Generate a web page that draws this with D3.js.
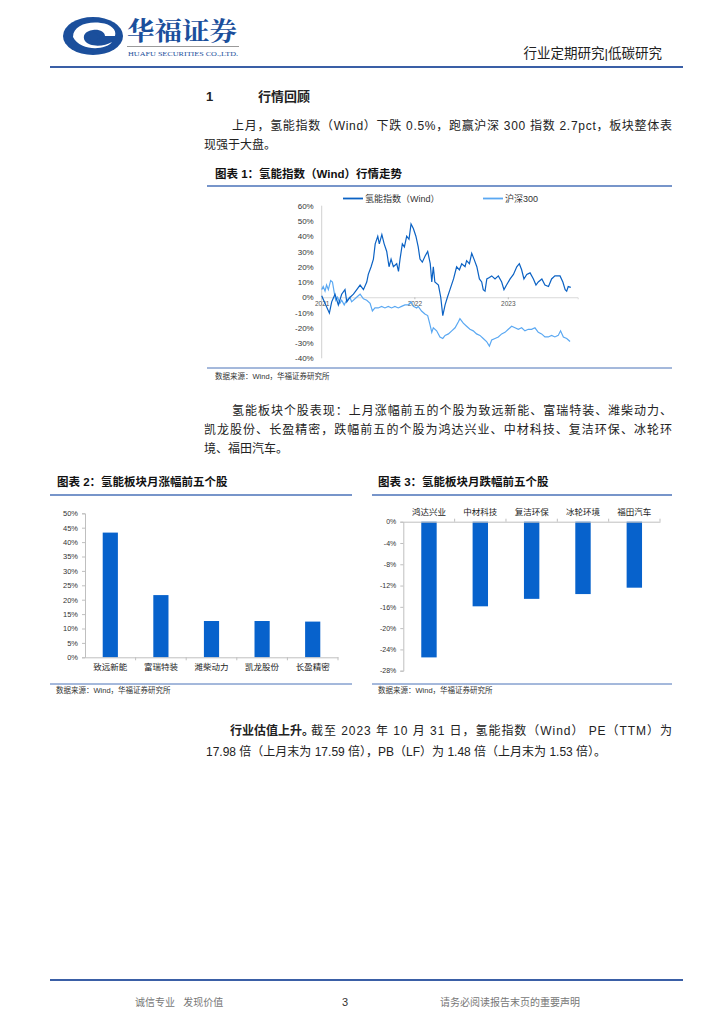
<!DOCTYPE html>
<html>
<head>
<meta charset="utf-8">
<script src="https://cdn.jsdelivr.net/npm/d3@7"></script>
<style>
body{margin:0;background:#fff}
svg{display:block}
</style>
</head>
<body>
<svg id="page"></svg>
<script>
// ---- data ----
var hydDates = ["2021-01-04","2021-02-03","2021-02-12","2021-02-25","2021-03-10","2021-03-23","2021-04-05","2021-04-12","2021-04-25","2021-05-08","2021-05-21","2021-06-03","2021-06-16","2021-06-29","2021-07-05","2021-07-16","2021-07-25","2021-08-01","2021-08-11","2021-08-17","2021-08-27","2021-09-05","2021-09-15","2021-09-24","2021-10-02","2021-10-11","2021-10-24","2021-10-31","2021-11-06","2021-11-15","2021-11-23","2021-12-02","2021-12-11","2021-12-19","2021-12-28","2022-01-07","2022-01-16","2022-01-23","2022-02-01","2022-02-12","2022-02-22","2022-03-04","2022-03-10","2022-03-16","2022-03-22","2022-04-05","2022-04-14","2022-04-22","2022-05-01","2022-05-10","2022-05-20","2022-06-03","2022-06-15","2022-06-26","2022-07-05","2022-07-18","2022-07-24","2022-08-04","2022-08-13","2022-08-22","2022-09-02","2022-09-12","2022-09-21","2022-09-27","2022-10-04","2022-10-11","2022-10-21","2022-10-30","2022-11-12","2022-11-25","2022-12-08","2022-12-17","2022-12-27","2023-01-10","2023-01-23","2023-02-05","2023-02-15","2023-02-24","2023-03-05","2023-03-16","2023-03-29","2023-04-11","2023-04-21","2023-04-30","2023-05-14","2023-05-26","2023-06-09","2023-06-21","2023-07-04","2023-07-24","2023-08-04","2023-08-13","2023-08-19","2023-08-25","2023-09-04"]
var hydValues = [1,-10.4,-3,2,-5,2,5,-3,0,2,5,8,5,10,15,20,25,35,40,35,41,35,30,20,25,20,22,17,25,35,33,40,38,48,45,40,33,25,23,27,30,22,10,20,10,8,0,-12,-5,0,5,12,20,18,22,20,24,22,28.8,25,20,12,10,5,4,12,13,14,12,14,10,5,8,12,15,20,22,18,12,15,16,12,8,10,12,8,7,12,14,14,10,5,4,7,6.5]

var hsDates = ["2021-01-04","2021-01-10","2021-01-17","2021-01-23","2021-01-30","2021-02-08","2021-02-15","2021-02-22","2021-02-28","2021-03-07","2021-03-16","2021-03-23","2021-04-02","2021-04-11","2021-04-24","2021-05-01","2021-05-14","2021-05-27","2021-06-03","2021-06-16","2021-06-29","2021-07-12","2021-07-21","2021-07-31","2021-08-13","2021-08-26","2021-09-08","2021-09-21","2021-10-04","2021-10-17","2021-10-30","2021-11-12","2021-11-25","2021-12-08","2021-12-19","2021-12-28","2022-01-10","2022-01-16","2022-01-29","2022-02-11","2022-02-22","2022-03-03","2022-03-10","2022-03-16","2022-03-29","2022-04-11","2022-04-22","2022-05-01","2022-05-14","2022-05-27","2022-06-09","2022-06-22","2022-06-28","2022-07-11","2022-07-24","2022-08-06","2022-08-19","2022-09-01","2022-09-14","2022-09-27","2022-10-10","2022-10-21","2022-10-30","2022-11-12","2022-11-25","2022-12-08","2022-12-21","2023-01-03","2023-01-16","2023-01-29","2023-02-11","2023-02-24","2023-03-09","2023-03-22","2023-04-04","2023-04-17","2023-04-30","2023-05-13","2023-05-26","2023-06-08","2023-06-21","2023-07-04","2023-07-17","2023-07-26","2023-08-06","2023-08-19","2023-09-01"]
var hsValues = [5,7,4,8,5,11,10,3,-2,0,-4,-2,-5,-2,0,-3,-1,1,2,-1,-2,-4,-9,-7,-7,-6,-7,-6,-7,-6,-7,-6,-5,-5,-3,-6,-7,-6,-9,-11,-12,-18,-23,-20,-22,-26,-27,-25,-24,-22,-20,-16,-14,-17,-19,-21,-22,-24,-25,-27,-29,-32,-28,-27,-26,-24,-23,-21,-19,-20,-21,-20,-22,-21,-21,-20,-23,-24,-26,-26,-25,-26,-25,-22,-26,-27,-29]

var lineNames = ["氢能指数（Wind）","沪深300"]
var yearTickDates = ["2021-01-04","2022-01-01","2023-01-01"]
var yearLabels = ["2021","2022","2023"]
var lineTicks = [-40,-30,-20,-10,0,10,20,30,40,50,60]

var riseStocks = ["致远新能","富瑞特装","潍柴动力","凯龙股份","长盈精密"]
var riseValues = [43.3,21.6,12.6,12.6,12.4]
var riseTicks = [0,5,10,15,20,25,30,35,40,45,50]

var fallStocks = ["鸿达兴业","中材科技","复洁环保","冰轮环境","福田汽车"]
var fallValues = [-25.5,-15.9,-14.5,-13.6,-12.4]
var fallTicks = [0,-4,-8,-12,-16,-20,-24,-28]

// ---- page ----
var W = 724, H = 1024
var CJK = "'Liberation Sans','Noto Sans CJK SC',sans-serif"
var parse = d3.timeParse("%Y-%m-%d")
var svg = d3.select("#page").attr("width",W).attr("height",H)
  .style("font-family",CJK)

function txt(g,x,y,s,size,opt){
  opt = opt||{}
  var t = g.append("text").attr("x",x).attr("y",y).text(s)
    .attr("font-size",size).attr("fill",opt.fill||"#222")
    .style("white-space","pre")
  if(opt.bold) t.attr("font-weight","bold")
  if(opt.anchor) t.attr("text-anchor",opt.anchor)
  if(opt.len) t.attr("textLength",opt.len).attr("lengthAdjust","spacing")
  return t
}

// header
var logo = svg.append("g")
logo.append("ellipse").attr("cx",93).attr("cy",36).attr("rx",30).attr("ry",19).attr("fill","#1b4f9c")
logo.append("path")
  .attr("d","M73,37 C73,26 87,21 101,23 C111,24 117,30 115,36 L105,36 C105,32 99,29 93,30 C85,31 82,36 85,41 C89,47 104,47 112,42 C105,51 80,51 73,37 Z")
  .attr("fill","#fff")
logo.append("path").attr("d","M93,32 L101,37 L93,42 L87,37 Z").attr("fill","#1b4f9c")
txt(svg,127,40,"华福证券",25,{fill:"#1b4f9c",bold:true}).style("font-family","'Noto Serif CJK SC','Noto Sans CJK SC',serif")
  .attr("textLength",110).attr("lengthAdjust","spacingAndGlyphs")
svg.append("line").attr("x1",127).attr("x2",239).attr("y1",46.5).attr("y2",46.5).attr("stroke","#9a9a9a").attr("stroke-width",1)
txt(svg,128,56,"HUAFU SECURITIES CO.,LTD.",6.6,{fill:"#1b4f9c"}).style("font-family","'Liberation Serif',serif")
  .attr("textLength",110).attr("lengthAdjust","spacingAndGlyphs")
txt(svg,662,58,"行业定期研究|低碳研究",13.5,{anchor:"end",fill:"#222"})
svg.append("line").attr("x1",50).attr("x2",683).attr("y1",67).attr("y2",67).attr("stroke","#3a5fa6").attr("stroke-width",2)

// section heading + paragraph 1
txt(svg,206,101,"1",13,{bold:true})
txt(svg,258,101,"行情回顾",13,{bold:true})
txt(svg,232,130,"上月，氢能指数（Wind）下跌 0.5%，跑赢沪深 300 指数 2.7pct，板块整体表",12,{len:440})
txt(svg,204,149,"现强于大盘。",12)

// ---- chart 1 frame ----
txt(svg,215,178,"图表 1：氢能指数（Wind）行情走势",11.5,{bold:true,fill:"#111"})
svg.append("line").attr("x1",207).attr("x2",672).attr("y1",186).attr("y2",186).attr("stroke","#4a72b8").attr("stroke-width",1.3)
svg.append("line").attr("x1",207).attr("x2",672).attr("y1",368).attr("y2",368).attr("stroke","#4a72b8").attr("stroke-width",1)
txt(svg,215,379,"数据来源：Wind，华福证券研究所",7.5,{fill:"#333"})

var lineColors = ["#0b62c4","#5aa8f2"]
var hydData = hydDates.map((d,i)=>({date:parse(d),v:hydValues[i]}))
var hsData = hsDates.map((d,i)=>({date:parse(d),v:hsValues[i]}))

var x1 = d3.scaleTime().domain([parse("2021-01-04"),parse("2023-10-01")]).range([321.7,577.7])
var y1 = d3.scaleLinear().domain([-40,60]).range([358.3,205.7])
var c1 = svg.append("g").attr("class","chart1")

c1.append("line").attr("x1",321.7).attr("x2",321.7).attr("y1",y1(60)).attr("y2",y1(-40)).attr("stroke","#d0d0d0")
c1.append("g").attr("transform","translate(321.7,0)")
  .call(d3.axisLeft(y1).tickValues(lineTicks).tickFormat(d=>d+"%").tickSize(0).tickPadding(8))
  .call(g=>g.select(".domain").remove())
  .selectAll("text").attr("font-size",8).attr("fill","#333").style("font-family",CJK)

c1.append("g").attr("transform",`translate(0,${y1(0)})`)
  .call(d3.axisBottom(x1).tickValues(yearTickDates.map(parse)).tickFormat((d,i)=>yearLabels[i]).tickSize(2).tickPadding(2))
  .call(g=>g.select(".domain").attr("stroke","#d9d9d9"))
  .call(g=>g.selectAll("line").attr("stroke","#bbb"))
  .selectAll("text").attr("font-size",6.5).attr("fill","#555").style("font-family",CJK)

var line = d3.line().x(d=>x1(d.date)).y(d=>y1(d.v))
c1.append("path").datum(hsData).attr("d",line).attr("fill","none").attr("stroke",lineColors[1]).attr("stroke-width",1.2)
c1.append("path").datum(hydData).attr("d",line).attr("fill","none").attr("stroke",lineColors[0]).attr("stroke-width",1.2)

var leg = c1.append("g")
var legX = [343,483]
lineNames.forEach(function(n,i){
  leg.append("line").attr("x1",legX[i]).attr("x2",legX[i]+20).attr("y1",198.5).attr("y2",198.5)
    .attr("stroke",lineColors[i]).attr("stroke-width",1.8)
  txt(leg,legX[i]+22,202,n,9,{fill:"#333"})
})

// paragraph 2
txt(svg,232,415,"氢能板块个股表现：上月涨幅前五的个股为致远新能、富瑞特装、潍柴动力、",12,{len:440})
txt(svg,204,434,"凯龙股份、长盈精密，跌幅前五的个股为鸿达兴业、中材科技、复洁环保、冰轮环",12,{len:468})
txt(svg,204,453,"境、福田汽车。",12)

// ---- chart 2 ----
txt(svg,57,486,"图表 2：氢能板块月涨幅前五个股",11.5,{bold:true,fill:"#111"})
svg.append("line").attr("x1",50).attr("x2",352).attr("y1",495).attr("y2",495).attr("stroke","#4a72b8").attr("stroke-width",1.3)
svg.append("line").attr("x1",50).attr("x2",352).attr("y1",684).attr("y2",684).attr("stroke","#4a72b8").attr("stroke-width",1)
txt(svg,56,693,"数据来源：Wind，华福证券研究所",7.5,{fill:"#333"})

var barColor = "#0762cc"
var x2 = d3.scaleBand().domain(riseStocks).range([85,338]).paddingInner(0.7).paddingOuter(0.35)
var y2 = d3.scaleLinear().domain([0,50]).range([657.3,513.3])
var c2 = svg.append("g")
c2.append("g").attr("transform","translate(85,0)")
  .call(d3.axisLeft(y2).tickValues(riseTicks).tickFormat(d=>d+"%").tickSize(3).tickPadding(4))
  .call(g=>g.select(".domain").attr("stroke","#bfbfbf"))
  .call(g=>g.selectAll(".tick line").attr("stroke","#bfbfbf"))
  .selectAll("text").attr("font-size",7.5).attr("fill","#333").style("font-family",CJK)
c2.selectAll(".bar").data(riseValues).enter().append("rect").attr("class","bar")
  .attr("x",(d,i)=>x2(riseStocks[i])).attr("width",x2.bandwidth())
  .attr("y",d=>y2(d)).attr("height",d=>y2(0)-y2(d)).attr("fill",barColor)
c2.append("g").attr("transform",`translate(0,${y2(0)})`)
  .call(d3.axisBottom(x2).tickSize(0).tickPadding(7))
  .call(g=>g.select(".domain").attr("stroke","#bfbfbf"))
  .selectAll("text").attr("font-size",8.5).attr("fill","#222").style("font-family",CJK)
c2.selectAll(".sep").data(riseStocks).enter().append("line").attr("class","sep")
  .attr("x1",(d,i)=>x2(d)+x2.bandwidth()/2+x2.step()/2).attr("x2",(d,i)=>x2(d)+x2.bandwidth()/2+x2.step()/2)
  .attr("y1",y2(0)).attr("y2",y2(0)+3).attr("stroke","#bfbfbf")

// ---- chart 3 ----
txt(svg,378,486,"图表 3：氢能板块月跌幅前五个股",11.5,{bold:true,fill:"#111"})
svg.append("line").attr("x1",372).attr("x2",672).attr("y1",495).attr("y2",495).attr("stroke","#4a72b8").attr("stroke-width",1.3)
svg.append("line").attr("x1",372).attr("x2",672).attr("y1",684).attr("y2",684).attr("stroke","#4a72b8").attr("stroke-width",1)
txt(svg,378,693,"数据来源：Wind，华福证券研究所",7.5,{fill:"#333"})

var x3 = d3.scaleBand().domain(fallStocks).range([403.3,660]).paddingInner(0.7).paddingOuter(0.35)
var y3 = d3.scaleLinear().domain([-28,0]).range([670.7,521.7])
var c3 = svg.append("g")
c3.append("g").attr("transform","translate(403.3,0)")
  .call(d3.axisLeft(y3).tickValues(fallTicks).tickFormat(d=>d+"%").tickSize(3).tickPadding(4))
  .call(g=>g.select(".domain").attr("stroke","#bfbfbf"))
  .call(g=>g.selectAll(".tick line").attr("stroke","#bfbfbf"))
  .selectAll("text").attr("font-size",7).attr("fill","#333").style("font-family",CJK)
c3.selectAll(".bar").data(fallValues).enter().append("rect").attr("class","bar")
  .attr("x",(d,i)=>x3(fallStocks[i])).attr("width",x3.bandwidth())
  .attr("y",y3(0)).attr("height",d=>y3(d)-y3(0)).attr("fill",barColor)
c3.append("g").attr("transform",`translate(0,${y3(0)})`)
  .call(d3.axisTop(x3).tickSize(0).tickPadding(7))
  .call(g=>g.select(".domain").attr("stroke","#bfbfbf"))
  .selectAll("text").attr("font-size",8.5).attr("fill","#222").style("font-family",CJK)
c3.selectAll(".sep").data(fallStocks).enter().append("line").attr("class","sep")
  .attr("x1",d=>x3(d)+x3.bandwidth()/2+x3.step()/2).attr("x2",d=>x3(d)+x3.bandwidth()/2+x3.step()/2)
  .attr("y1",y3(0)).attr("y2",y3(0)-3).attr("stroke","#bfbfbf")

// paragraph 3
txt(svg,230,735,"行业估值上升。",12,{bold:true})
txt(svg,311,735,"截至 2023 年 10 月 31 日，氢能指数（Wind） PE（TTM）为",12,{len:361})
txt(svg,206,756,"17.98 倍（上月末为 17.59 倍），PB（LF）为 1.48 倍（上月末为 1.53 倍）。",12)

// footer
svg.append("line").attr("x1",50).attr("x2",683).attr("y1",980).attr("y2",980).attr("stroke","#3a5fa6").attr("stroke-width",2)
txt(svg,135,1006,"诚信专业   发现价值",10,{fill:"#777"})
txt(svg,345,1006,"3",11,{fill:"#333",anchor:"middle"})
txt(svg,440,1006,"请务必阅读报告末页的重要声明",10,{fill:"#777"})
</script>
</body>
</html>
